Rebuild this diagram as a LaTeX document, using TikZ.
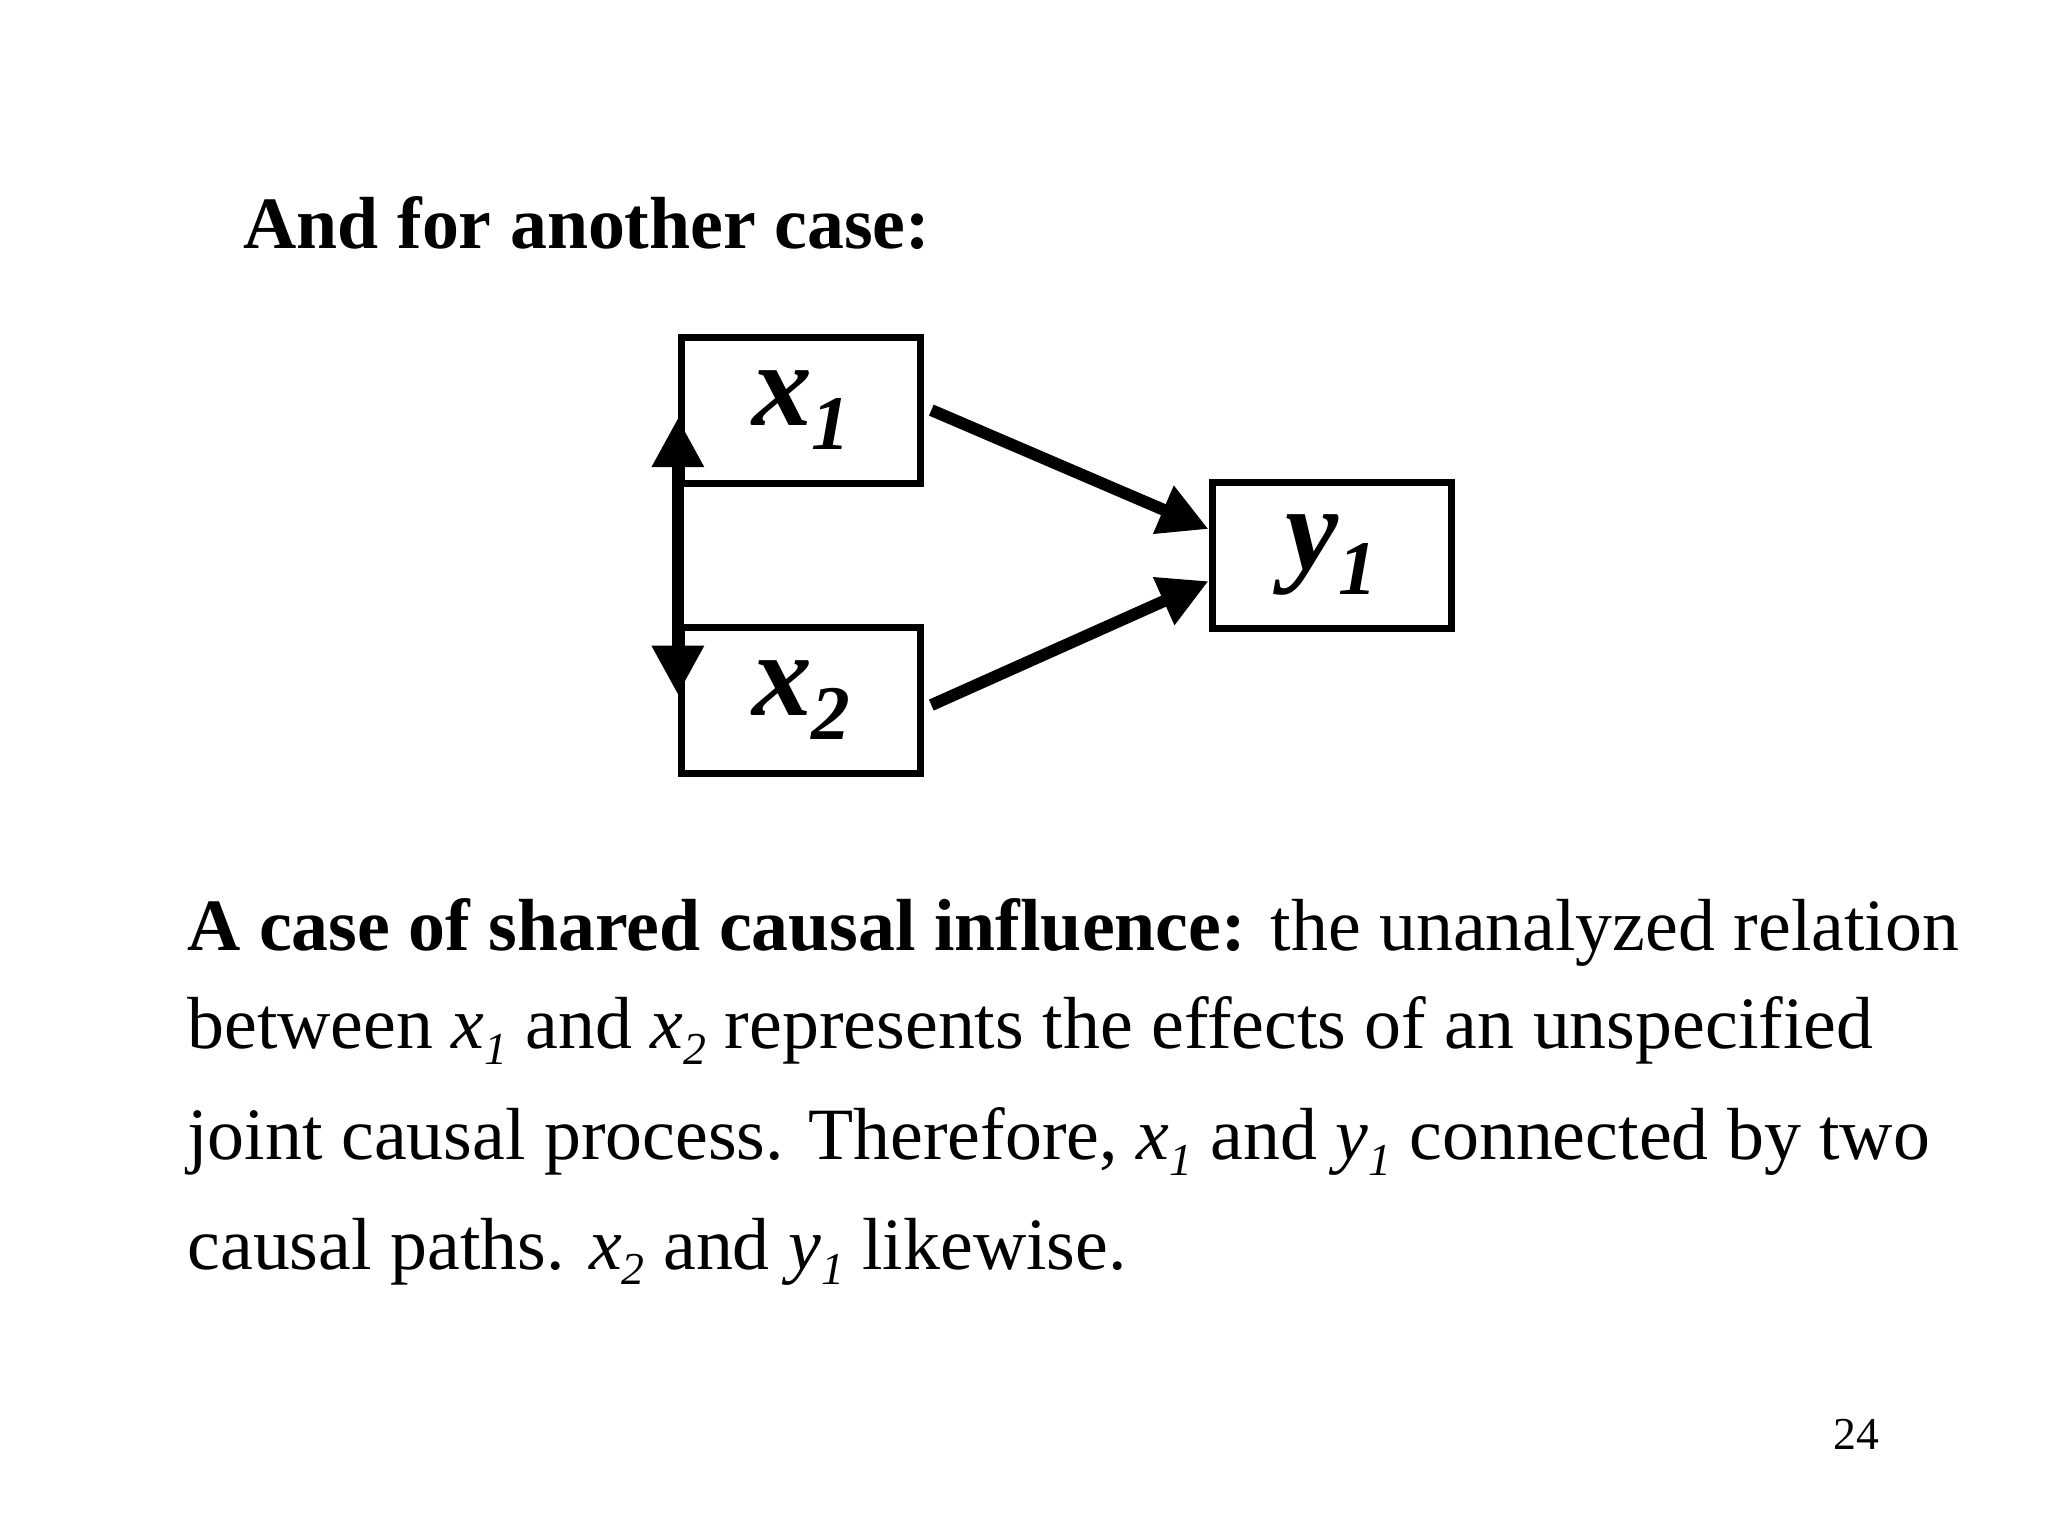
\documentclass[tikz,border=0pt]{standalone}
\usepackage{fontspec}
\setmainfont{Liberation Serif}
\usetikzlibrary{arrows.meta,positioning}
\newcommand{\vsub}[2]{\textit{#1}\raisebox{-0.45ex}{\fontsize{13}{13}\selectfont\textit{#2}}}
\newcommand{\bsub}[2]{\textbf{\textit{#1}}\raisebox{-0.45ex}{\fontsize{22}{22}\selectfont\textbf{\textit{#2}}}}
\begin{document}
\begin{tikzpicture}[x=0.01306cm,y=-0.01306cm]

\tikzset{varbox/.style={draw,line width=2pt,minimum width=2.39cm,minimum height=1.46cm,inner sep=0pt,font=\fontsize{34}{34}\selectfont},
path/.style={line width=3.4pt,-{Triangle[length=14pt,width=14pt]}},
txt/.style={anchor=base west,inner sep=0pt,font=\fontsize{21}{21}\selectfont}}

\useasboundingbox (0,0) rectangle (1568,1176);

% heading
\node[txt] (head) at (186,190) {\textbf{And for another case:}};

% variables
\node[varbox] (x1) at (613.5,314) {\bsub{x}{1}};
\node[varbox] (x2) at (613.5,536) {\bsub{x}{2}};
\node[varbox] (y1) at (1019.5,425) {\bsub{y}{1}};

% Edges
\coordinate (top) at (519,320);
\coordinate (bot) at (519,532);
\draw[path,{Triangle[length=14pt,width=14pt]}-{Triangle[length=14pt,width=14pt]}] (top) -- (bot);
\draw[path] ([xshift=2pt]x1.east) -- ([yshift=0.26cm]y1.west);
\draw[path] ([xshift=2pt,yshift=-0.05cm]x2.east) -- ([yshift=-0.26cm]y1.west);

% text
\node[txt] (l1) at (143,728) {\textbf{A case of shared causal influence:} the unanalyzed relation};
\node[txt] (l2) at (143,803) {between \vsub{x}{1} and \vsub{x}{2} represents the effects of an unspecified};
\node[txt] (l3) at (143,888) {joint causal process. Therefore, \vsub{x}{1} and \vsub{y}{1} connected by two};
\node[txt] (l4) at (143,972) {causal paths. \vsub{x}{2} and \vsub{y}{1} likewise.};
\node[txt,font=\fontsize{13}{13}\selectfont] (pg) at (1403,1110) {24};

\end{tikzpicture}
\end{document}
